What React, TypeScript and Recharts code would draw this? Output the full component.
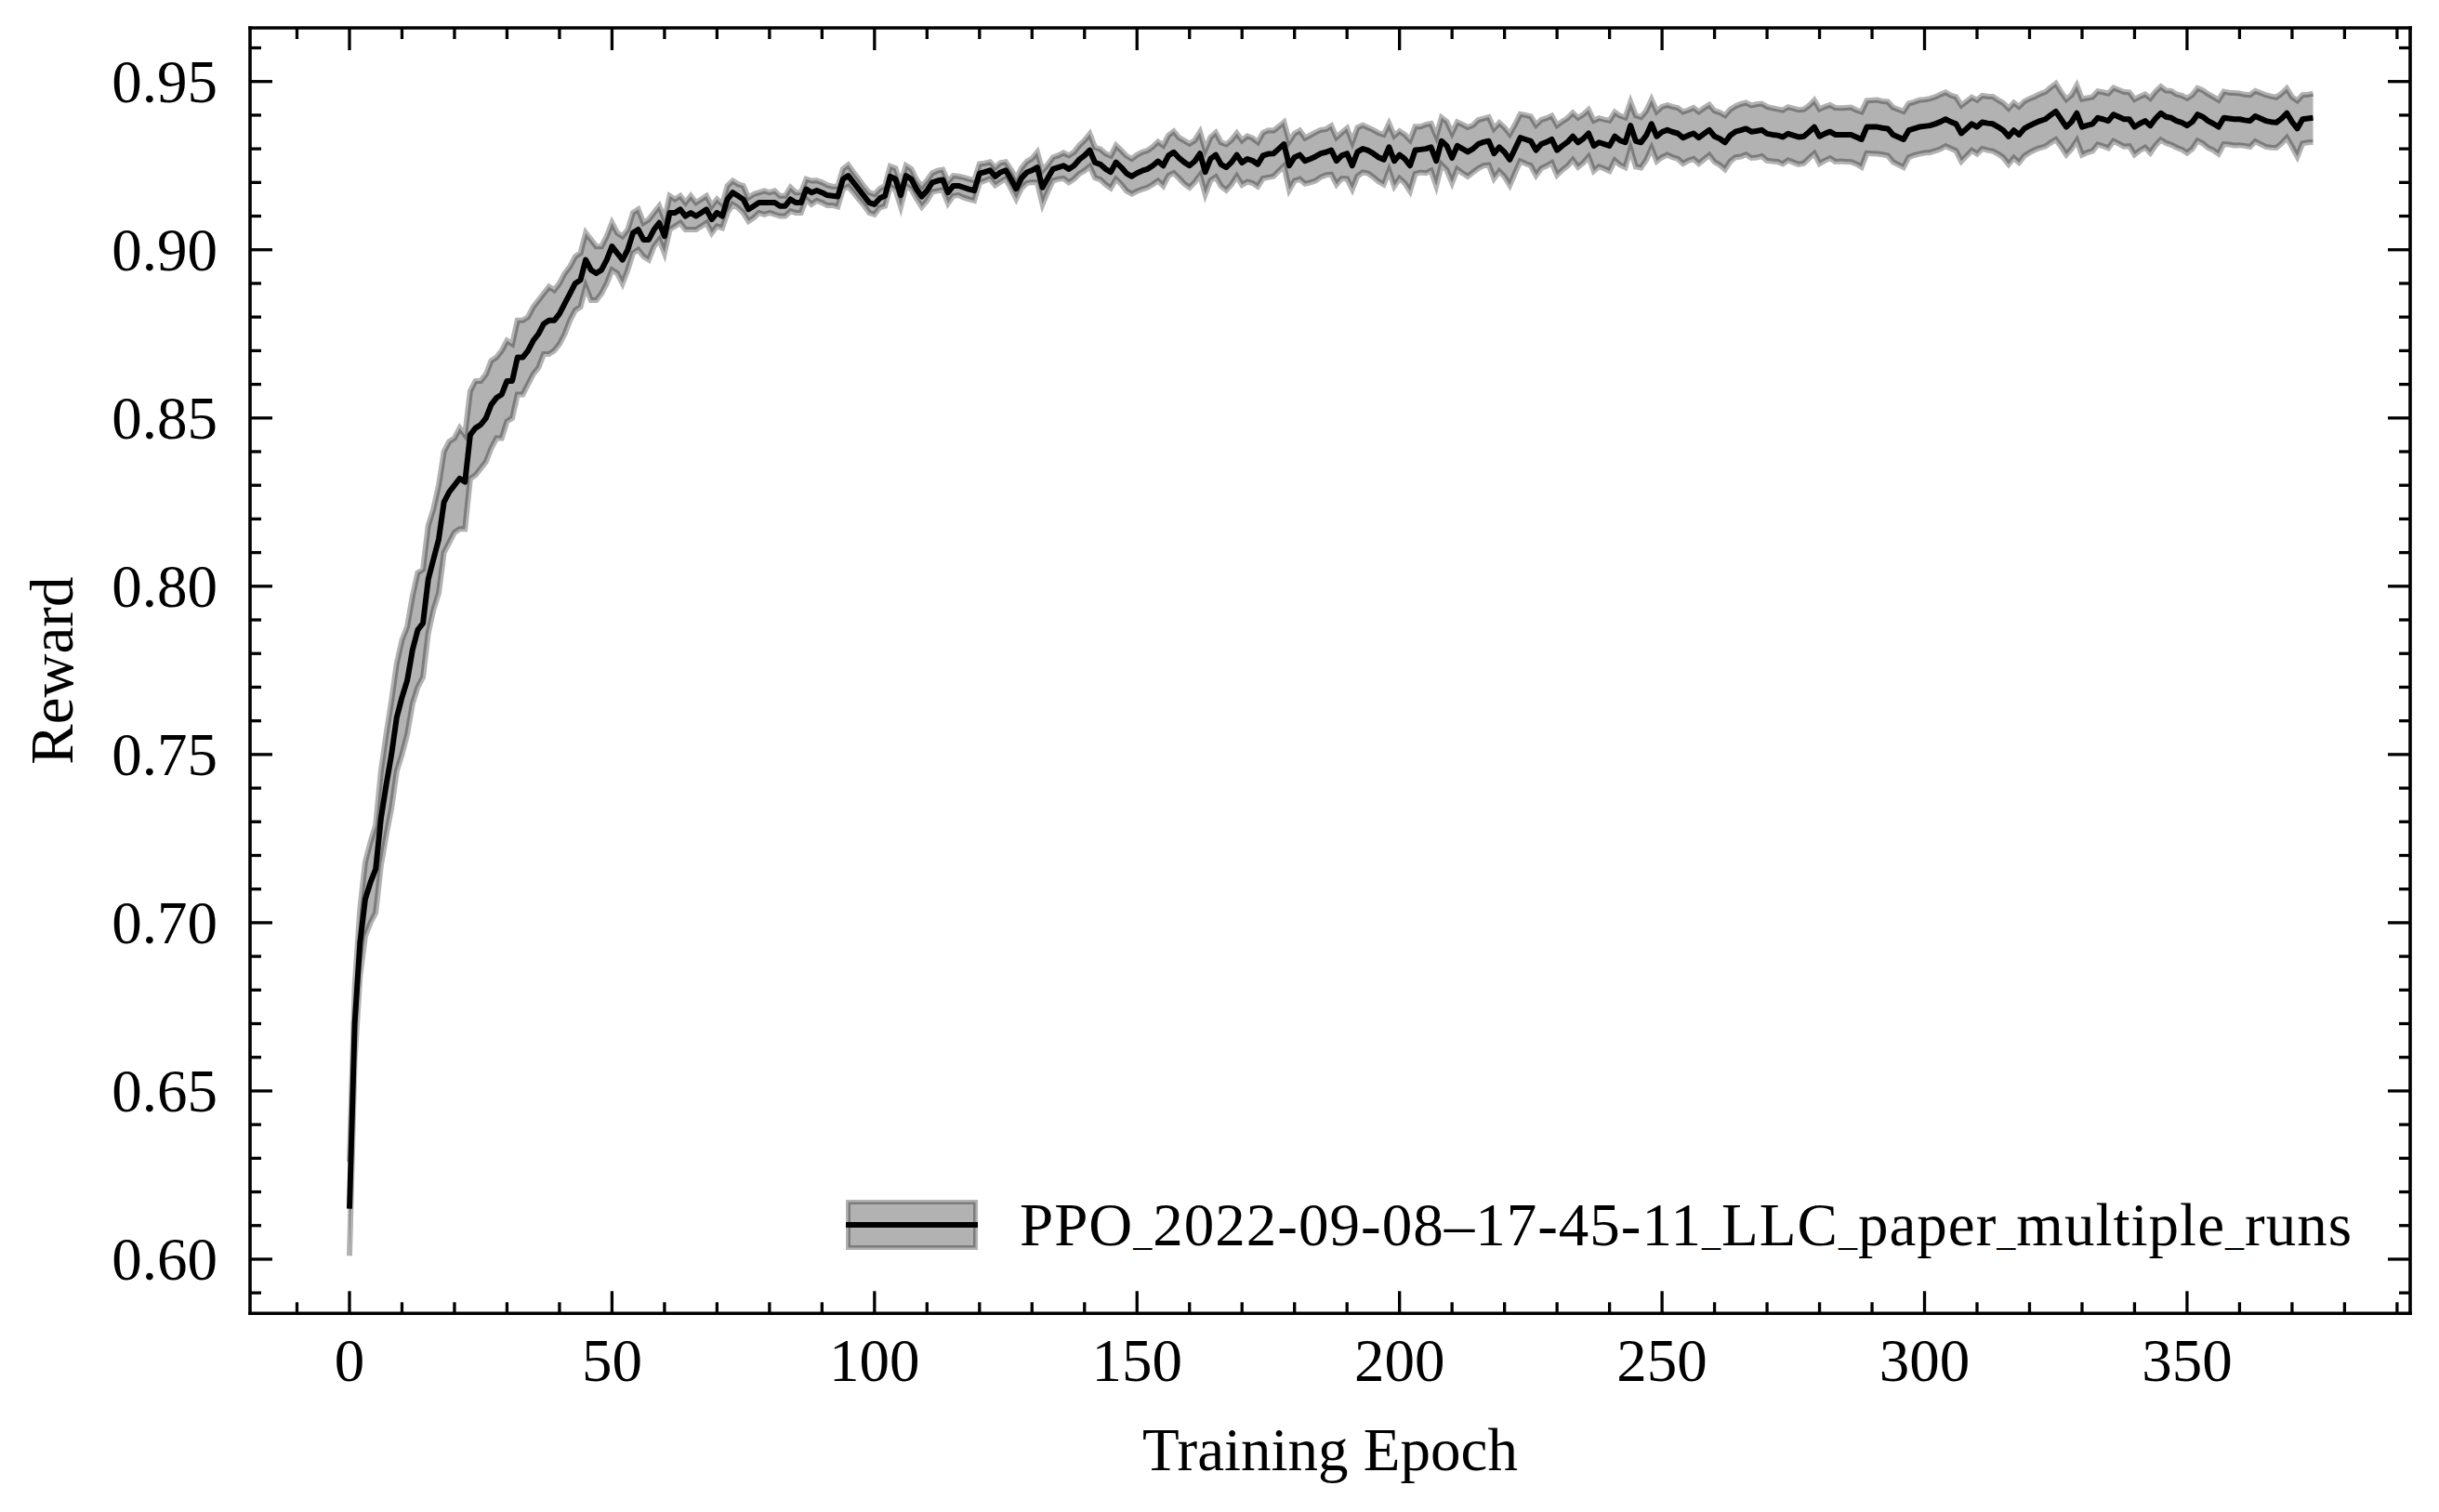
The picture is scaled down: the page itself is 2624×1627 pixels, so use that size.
import React from 'react';
import { ComposedChart, Line, Area, XAxis, YAxis, Label } from 'recharts';

const FONT = '"Liberation Serif", "Times New Roman", Times, serif';

// Mean reward per training epoch
const meanReward = [
  0.615, 0.670, 0.694, 0.707, 0.712, 0.716, 0.731, 0.741, 0.750, 0.761,
  0.767, 0.772, 0.781, 0.787, 0.789, 0.802, 0.808, 0.814, 0.825, 0.828,
  0.830, 0.832, 0.831, 0.845, 0.847, 0.848, 0.850, 0.854, 0.856, 0.857,
  0.861, 0.861, 0.868, 0.868, 0.870, 0.873, 0.875, 0.878, 0.879, 0.879,
  0.881, 0.884, 0.887, 0.890, 0.891, 0.897, 0.894, 0.893, 0.894, 0.897,
  0.901, 0.899, 0.897, 0.900, 0.905, 0.906, 0.903, 0.903, 0.906, 0.908,
  0.904, 0.911, 0.911, 0.912, 0.910, 0.911, 0.910, 0.911, 0.912, 0.909,
  0.911, 0.910, 0.915, 0.917, 0.916, 0.915, 0.912, 0.913, 0.914, 0.914,
  0.914, 0.914, 0.913, 0.913, 0.915, 0.914, 0.914, 0.918, 0.917, 0.9176,
  0.917, 0.9162, 0.916, 0.9158, 0.921, 0.922, 0.920, 0.918, 0.916, 0.914,
  0.9135, 0.9153, 0.916, 0.9218, 0.921, 0.9162, 0.922, 0.921, 0.918, 0.9158,
  0.9176, 0.920, 0.9205, 0.9208, 0.917, 0.919, 0.919, 0.9185, 0.918, 0.9176,
  0.9227, 0.9231, 0.9236, 0.9218, 0.923, 0.9236, 0.921, 0.9181, 0.9213, 0.923,
  0.9236, 0.9245, 0.9185, 0.9213, 0.924, 0.9245, 0.925, 0.924, 0.925, 0.9268,
  0.928, 0.9296, 0.9259, 0.9254, 0.924, 0.9231, 0.926, 0.9245, 0.9227, 0.9218,
  0.9228, 0.9235, 0.924, 0.925, 0.9263, 0.925, 0.928, 0.929, 0.9273, 0.926,
  0.925, 0.9263, 0.9286, 0.9231, 0.927, 0.9282, 0.9254, 0.9245, 0.926, 0.9282,
  0.9259, 0.927, 0.9265, 0.9254, 0.928, 0.9285, 0.9286, 0.930, 0.9314, 0.925,
  0.9275, 0.9282, 0.9264, 0.927, 0.9277, 0.9286, 0.929, 0.9296, 0.9264, 0.928,
  0.9286, 0.925, 0.9291, 0.930, 0.9295, 0.9286, 0.9275, 0.9268, 0.9305, 0.9264,
  0.9282, 0.927, 0.925, 0.9296, 0.9298, 0.930, 0.9305, 0.9264, 0.9323, 0.9309,
  0.9273, 0.9309, 0.930, 0.9291, 0.930, 0.9314, 0.932, 0.9323, 0.9286, 0.9305,
  0.929, 0.9268, 0.930, 0.9333, 0.9328, 0.9323, 0.9296, 0.9314, 0.932, 0.9328,
  0.9296, 0.9309, 0.932, 0.9337, 0.9319, 0.933, 0.9346, 0.9309, 0.9319, 0.9314,
  0.9309, 0.9337, 0.9325, 0.9319, 0.9369, 0.9323, 0.9319, 0.934, 0.9374, 0.9337,
  0.935, 0.9356, 0.935, 0.9346, 0.9333, 0.934, 0.9346, 0.9333, 0.9345, 0.9356,
  0.9337, 0.933, 0.9319, 0.934, 0.9351, 0.9355, 0.936, 0.9351, 0.9353, 0.9356,
  0.9345, 0.9342, 0.934, 0.9335, 0.9345, 0.934, 0.9335, 0.9337, 0.935, 0.9365,
  0.9337, 0.9345, 0.9351, 0.9342, 0.9342, 0.9342, 0.9342, 0.9335, 0.9328, 0.9365,
  0.9365, 0.9365, 0.9362, 0.936, 0.9342, 0.9335, 0.9328, 0.9355, 0.936, 0.9365,
  0.9367, 0.9369, 0.9374, 0.938, 0.9388, 0.938, 0.9374, 0.9346, 0.936, 0.9374,
  0.9365, 0.9379, 0.9376, 0.9374, 0.9365, 0.9355, 0.9337, 0.9355, 0.9342, 0.936,
  0.9369, 0.9376, 0.9383, 0.9388, 0.940, 0.9411, 0.9388, 0.9365, 0.938, 0.9406,
  0.9365, 0.937, 0.9374, 0.9392, 0.9388, 0.9383, 0.9402, 0.9395, 0.9388, 0.9388,
  0.9365, 0.9375, 0.9383, 0.9369, 0.939, 0.9406, 0.9395, 0.9392, 0.9383, 0.9378,
  0.9369, 0.938, 0.9402, 0.9395, 0.9383, 0.9375, 0.9365, 0.9392, 0.939, 0.9388,
  0.9388, 0.9385, 0.9383, 0.9397, 0.939, 0.9383, 0.938, 0.9378, 0.939, 0.9406,
  0.938, 0.936, 0.9388, 0.939, 0.9392,
];

// Standard deviation across runs (half-width of the shaded band)
const stdReward = [
  0.014, 0.011, 0.010, 0.011, 0.012, 0.013, 0.014, 0.015, 0.016, 0.016,
  0.017, 0.016, 0.016, 0.017, 0.016, 0.016, 0.015, 0.016, 0.015, 0.015,
  0.014, 0.015, 0.014, 0.013, 0.014, 0.013, 0.013, 0.013, 0.012, 0.013,
  0.012, 0.011, 0.011, 0.011, 0.010, 0.010, 0.010, 0.009, 0.010, 0.009,
  0.009, 0.009, 0.008, 0.008, 0.008, 0.008, 0.009, 0.008, 0.007, 0.007,
  0.007, 0.006, 0.007, 0.006, 0.006, 0.006, 0.005, 0.006, 0.005, 0.005,
  0.005, 0.005, 0.004, 0.004, 0.004, 0.005, 0.004, 0.004, 0.004, 0.004,
  0.004, 0.0035, 0.004, 0.0035, 0.0035, 0.004, 0.0035, 0.0035, 0.003, 0.0035,
  0.003, 0.0035, 0.003, 0.003, 0.0035, 0.003, 0.003, 0.003, 0.0035, 0.003,
  0.003, 0.003, 0.0028, 0.003, 0.003, 0.0032, 0.003, 0.003, 0.0028, 0.003,
  0.003, 0.0028, 0.003, 0.003, 0.0032, 0.0034, 0.003, 0.003, 0.0028, 0.003,
  0.003, 0.0028, 0.003, 0.003, 0.0032, 0.003, 0.0028, 0.003, 0.003, 0.003,
  0.0028, 0.0026, 0.0025, 0.0026, 0.0028, 0.0025, 0.0028, 0.003, 0.003, 0.0032,
  0.0035, 0.0045, 0.005, 0.004, 0.0035, 0.0035, 0.0038, 0.004, 0.004, 0.0042,
  0.0045, 0.0048, 0.0045, 0.0045, 0.0046, 0.0048, 0.005, 0.005, 0.0052, 0.0052,
  0.0054, 0.0055, 0.0055, 0.0056, 0.0058, 0.006, 0.006, 0.0062, 0.006, 0.0064,
  0.0065, 0.0062, 0.0064, 0.0066, 0.0064, 0.0066, 0.0065, 0.0068, 0.0066, 0.0064,
  0.0066, 0.0068, 0.0067, 0.0066, 0.0068, 0.007, 0.0068, 0.0066, 0.0065, 0.0072,
  0.007, 0.0072, 0.0068, 0.007, 0.0072, 0.007, 0.0068, 0.0072, 0.007, 0.0068,
  0.0075, 0.007, 0.0072, 0.007, 0.0068, 0.007, 0.0072, 0.0074, 0.007, 0.0075,
  0.007, 0.0072, 0.0076, 0.007, 0.0068, 0.0072, 0.007, 0.0074, 0.007, 0.0072,
  0.0074, 0.007, 0.0072, 0.0073, 0.007, 0.0072, 0.007, 0.0071, 0.0074, 0.0072,
  0.0073, 0.0076, 0.0072, 0.007, 0.0072, 0.0073, 0.0075, 0.0072, 0.0071, 0.007,
  0.0074, 0.0072, 0.0071, 0.007, 0.0073, 0.0072, 0.007, 0.0075, 0.0072, 0.0073,
  0.0075, 0.0072, 0.0073, 0.0074, 0.007, 0.0076, 0.0075, 0.0073, 0.0072, 0.0074,
  0.0075, 0.0074, 0.0075, 0.0076, 0.0077, 0.0075, 0.0076, 0.0077, 0.0076, 0.0075,
  0.0076, 0.0078, 0.008, 0.0077, 0.0076, 0.0078, 0.0077, 0.0078, 0.0079, 0.0078,
  0.008, 0.0079, 0.0078, 0.008, 0.0079, 0.008, 0.0081, 0.008, 0.0078, 0.0079,
  0.0081, 0.008, 0.0079, 0.008, 0.0079, 0.008, 0.0081, 0.008, 0.0082, 0.0078,
  0.0079, 0.008, 0.0079, 0.008, 0.0081, 0.0082, 0.0083, 0.008, 0.0079, 0.008,
  0.0079, 0.008, 0.008, 0.0081, 0.008, 0.0079, 0.008, 0.0083, 0.0081, 0.0079,
  0.008, 0.0079, 0.008, 0.0081, 0.008, 0.0081, 0.0083, 0.0082, 0.0083, 0.0081,
  0.008, 0.0079, 0.008, 0.0081, 0.0082, 0.0083, 0.0081, 0.0082, 0.008, 0.0082,
  0.0083, 0.0081, 0.008, 0.0079, 0.008, 0.0081, 0.0079, 0.008, 0.0081, 0.008,
  0.0082, 0.008, 0.0079, 0.0081, 0.008, 0.0079, 0.0078, 0.008, 0.0079, 0.008,
  0.0081, 0.008, 0.0078, 0.0079, 0.008, 0.0079, 0.008, 0.0078, 0.0077, 0.0078,
  0.0077, 0.0076, 0.0077, 0.0075, 0.0076, 0.0077, 0.0076, 0.0075, 0.0074, 0.0073,
  0.0074, 0.0083, 0.0072, 0.0071, 0.0072,
];

const epochs = meanReward.map((_, i) => i);

const xTicks = [-10, 0, 10, 20, 30, 40, 50, 60, 70, 80, 90, 100, 110, 120, 130, 140, 150, 160, 170, 180, 190, 200, 210, 220, 230, 240, 250, 260, 270, 280, 290, 300, 310, 320, 330, 340, 350, 360, 370, 380, 390];
const xMajor = [0, 50, 100, 150, 200, 250, 300, 350];
const yTicks = [0.59, 0.60, 0.61, 0.62, 0.63, 0.64, 0.65, 0.66, 0.67, 0.68, 0.69, 0.70, 0.71, 0.72, 0.73, 0.74, 0.75, 0.76, 0.77, 0.78, 0.79, 0.80, 0.81, 0.82, 0.83, 0.84, 0.85, 0.86, 0.87, 0.88, 0.89, 0.90, 0.91, 0.92, 0.93, 0.94, 0.95, 0.96];
const yMajor = [0.60, 0.65, 0.70, 0.75, 0.80, 0.85, 0.90, 0.95];

const xDomain = [-18.94, 392.5];
const yDomain = [0.58389, 0.96594];

const xLabel = 'Training Epoch';
const yLabel = 'Reward';
const legendParts = ['PPO', '2022-09-08\u201317-45-11', 'LLC', 'paper', 'multiple', 'runs'];

const data = epochs.map((e, i) => {
  const lo = meanReward[i] - stdReward[i];
  const hi = meanReward[i] + stdReward[i];
  return { epoch: e, mean: meanReward[i], lo, hi, band: [lo, hi] };
});

const W = 2608;
const H = 1611;
// axis boxes are 1px thick, margins account for that
const MARGIN = { top: 21, right: 22, left: 260, bottom: 204.7 };

const MAJOR_LEN = 24;
const MINOR_LEN = 12;
const TICK_W = 3.3;
const SPINE = { stroke: '#000', strokeWidth: 3.6, strokeLinecap: 'square' as const };

const isMajorX = (v: number) => xMajor.some((m) => Math.abs(m - v) < 1e-9);
const isMajorY = (v: number) => yMajor.some((m) => Math.abs(m - v) < 1e-9);

const BottomTick = (props: any) => {
  const { x, y, payload } = props;
  const major = isMajorX(payload.value);
  return (
    <g>
      <line x1={x} x2={x} y1={y} y2={y - (major ? MAJOR_LEN : MINOR_LEN)} stroke="#000" strokeWidth={TICK_W} />
      {major && (
        <text x={x} y={y + 73} textAnchor="middle" fontFamily={FONT} fontSize={65} fill="#000">
          {payload.value}
        </text>
      )}
    </g>
  );
};

const TopTick = (props: any) => {
  const { x, y, payload } = props;
  const major = isMajorX(payload.value);
  return <line x1={x} x2={x} y1={y} y2={y + (major ? MAJOR_LEN : MINOR_LEN)} stroke="#000" strokeWidth={TICK_W} />;
};

const LeftTick = (props: any) => {
  const { x, y, payload } = props;
  const major = isMajorY(payload.value);
  return (
    <g>
      <line x1={x} x2={x + (major ? MAJOR_LEN : MINOR_LEN)} y1={y} y2={y} stroke="#000" strokeWidth={TICK_W} />
      {major && (
        <text x={x - 35} y={y + 22} textAnchor="end" fontFamily={FONT} fontSize={65} fill="#000">
          {Number(payload.value).toFixed(2)}
        </text>
      )}
    </g>
  );
};

const RightTick = (props: any) => {
  const { x, y, payload } = props;
  const major = isMajorY(payload.value);
  return <line x1={x} x2={x - (major ? MAJOR_LEN : MINOR_LEN)} y1={y} y2={y} stroke="#000" strokeWidth={TICK_W} />;
};

const XTitle = (props: any) => {
  const vb = props.viewBox || {};
  return (
    <text x={vb.x + vb.width / 2} y={vb.y + 169} textAnchor="middle" fontFamily={FONT} fontSize={65} fill="#000">
      {xLabel}
    </text>
  );
};

const YTitle = (props: any) => {
  const vb = props.viewBox || {};
  const cx = vb.x + vb.width - 191;
  const cy = vb.y + vb.height / 2;
  return (
    <text x={cx} y={cy} transform={`rotate(-90 ${cx} ${cy})`} textAnchor="middle" fontFamily={FONT} fontSize={65} fill="#000">
      {yLabel}
    </text>
  );
};

const LegendBox = () => (
  <svg width={1690} height={80} style={{ position: 'absolute', left: 897, top: 1277, overflow: 'visible' }}>
    <rect x={7.5} y={8.5} width={137} height={49} fill="#000" fillOpacity={0.3} stroke="#000" strokeOpacity={0.3} strokeWidth={5} />
    <line x1={5} x2={147} y1={33} y2={33} stroke="#000" strokeWidth={6} />
    <text x={192} y={55} fontFamily={FONT} fontSize={65} fill="#000" textLength={1433} lengthAdjust="spacing">
      {legendParts.map((p, i) => (
        <React.Fragment key={i}>
          {i > 0 && <tspan fontSize={40}>_</tspan>}
          <tspan>{p}</tspan>
        </React.Fragment>
      ))}
    </text>
  </svg>
);

export default function App() {
  return (
    <div style={{ position: 'relative', width: W, height: H, background: '#fff' }}>
      <ComposedChart width={W} height={H} data={data} margin={MARGIN}>
        <XAxis
          xAxisId="b"
          dataKey="epoch"
          type="number"
          domain={xDomain}
          allowDataOverflow
          ticks={xTicks}
          interval={0}
          height={1}
          tickSize={0}
          tickMargin={0}
          tickLine={false}
          axisLine={SPINE}
          tick={<BottomTick />}
        >
          <Label content={<XTitle />} />
        </XAxis>
        <XAxis
          xAxisId="t"
          orientation="top"
          dataKey="epoch"
          type="number"
          domain={xDomain}
          allowDataOverflow
          ticks={xTicks}
          interval={0}
          height={1}
          tickSize={0}
          tickMargin={0}
          tickLine={false}
          axisLine={SPINE}
          tick={<TopTick />}
        />
        <YAxis
          yAxisId="l"
          type="number"
          domain={yDomain}
          allowDataOverflow
          ticks={yTicks}
          interval={0}
          width={1}
          tickSize={0}
          tickMargin={0}
          tickLine={false}
          axisLine={SPINE}
          tick={<LeftTick />}
        >
          <Label content={<YTitle />} />
        </YAxis>
        <YAxis
          yAxisId="r"
          orientation="right"
          type="number"
          domain={yDomain}
          allowDataOverflow
          ticks={yTicks}
          interval={0}
          width={1}
          tickSize={0}
          tickMargin={0}
          tickLine={false}
          axisLine={SPINE}
          tick={<RightTick />}
        />
        <Area
          xAxisId="b"
          yAxisId="l"
          dataKey="band"
          type="linear"
          stroke="none"
          fill="#000"
          fillOpacity={0.3}
          isAnimationActive={false}
          dot={false}
          activeDot={false}
        />
        <Line xAxisId="b" yAxisId="l" dataKey="lo" type="linear" stroke="#000" strokeOpacity={0.3} strokeWidth={6} dot={false} activeDot={false} isAnimationActive={false} />
        <Line xAxisId="b" yAxisId="l" dataKey="hi" type="linear" stroke="#000" strokeOpacity={0.3} strokeWidth={6} dot={false} activeDot={false} isAnimationActive={false} />
        <Line xAxisId="b" yAxisId="l" dataKey="mean" type="linear" stroke="#000" strokeWidth={6} strokeLinejoin="round" dot={false} activeDot={false} isAnimationActive={false} />
      </ComposedChart>
      <LegendBox />
    </div>
  );
}
